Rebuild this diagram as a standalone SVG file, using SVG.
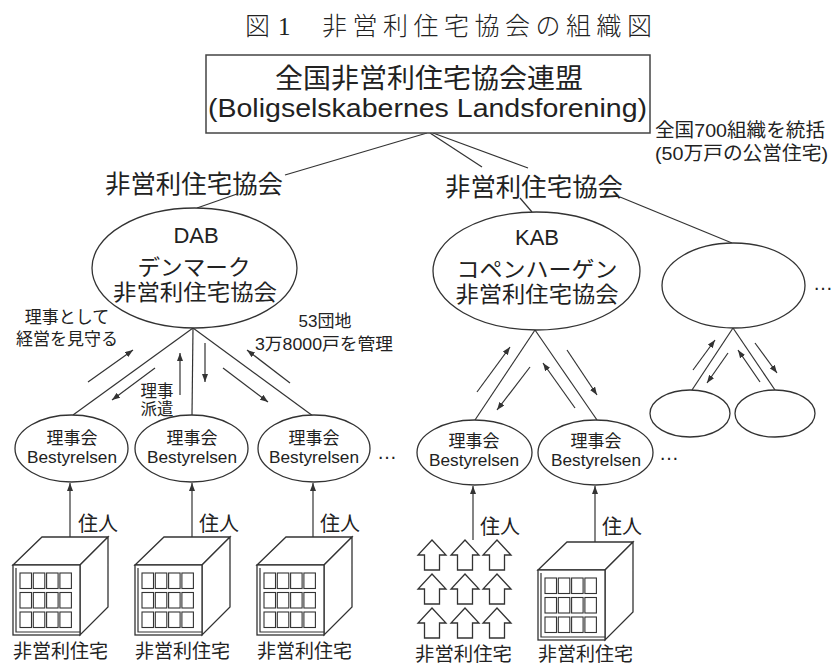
<svg xmlns="http://www.w3.org/2000/svg" width="833" height="666" viewBox="0 0 833 666">
<style>
  text { fill: #222; }
  .jp { font-family: "Liberation Sans", "Noto Sans CJK JP", sans-serif; }
  .ti { font-family: "Liberation Serif", "Noto Sans CJK JP", serif; font-weight: 300; }
  .c { text-anchor: middle; }
  .ln { stroke: #333; stroke-width: 1.2; fill: none; }
  .ar { stroke: #333; stroke-width: 1.2; fill: none; marker-end: url(#ah); }
  .sh { stroke: #333; stroke-width: 1.3; fill: #fff; }
  .win { stroke: #333; stroke-width: 1.1; fill: #fff; }
</style>
<defs>
  <marker id="ah" viewBox="0 0 8 6" refX="8" refY="3" markerWidth="8" markerHeight="6" orient="auto" markerUnits="userSpaceOnUse">
    <path d="M0,0 L8,3 L0,6 z" fill="#333"/>
  </marker>
  <g id="win4x3">
    <rect class="win" x="0" y="0" width="11.5" height="15.5"/>
    <rect class="win" x="13.3" y="0" width="11.5" height="15.5"/>
    <rect class="win" x="26.6" y="0" width="11.5" height="15.5"/>
    <rect class="win" x="39.9" y="0" width="11.5" height="15.5"/>
    <rect class="win" x="0" y="19.5" width="11.5" height="15.5"/>
    <rect class="win" x="13.3" y="19.5" width="11.5" height="15.5"/>
    <rect class="win" x="26.6" y="19.5" width="11.5" height="15.5"/>
    <rect class="win" x="39.9" y="19.5" width="11.5" height="15.5"/>
    <rect class="win" x="0" y="39" width="11.5" height="15.5"/>
    <rect class="win" x="13.3" y="39" width="11.5" height="15.5"/>
    <rect class="win" x="26.6" y="39" width="11.5" height="15.5"/>
    <rect class="win" x="39.9" y="39" width="11.5" height="15.5"/>
  </g>
  <g id="bldg">
    <polygon class="sh" points="0,28 29,0 95,0 67,28"/>
    <polygon class="sh" points="67,28 95,0 95,70 67,98"/>
    <rect class="sh" x="0" y="28" width="67" height="70"/>
    <polyline class="ln" points="3,31 3,95 67,95" stroke-width="1"/>
    <use href="#win4x3" x="7" y="36"/>
  </g>
  <path id="house" class="sh" d="M-7.5,30 V15 H-14 L0,0 L14,15 H7.5 V30 Z"/>
</defs>

<g id="title">
  <text class="ti" x="245" y="35" font-size="25">図</text>
  <text class="ti" x="278" y="35" font-size="25">1</text>
  <text class="ti" x="322" y="35" font-size="25" letter-spacing="5.5">非営利住宅協会の組織図</text>
</g>

<g id="connectors">
  <line class="ln" x1="427" y1="133" x2="285" y2="175"/>
  <line class="ln" x1="430" y1="133" x2="482" y2="167"/>
  <line class="ln" x1="433" y1="133" x2="528" y2="168"/>
  <line class="ln" x1="237" y1="194" x2="197" y2="208"/>
  <line class="ln" x1="520" y1="198" x2="532" y2="212"/>
  <line class="ln" x1="620" y1="197" x2="732" y2="243"/>
  <line class="ln" x1="193" y1="328" x2="73" y2="415"/>
  <line class="ln" x1="193" y1="328" x2="192" y2="415"/>
  <line class="ln" x1="193" y1="328" x2="313" y2="416"/>
  <line class="ln" x1="535" y1="330" x2="475" y2="420"/>
  <line class="ln" x1="535" y1="330" x2="597" y2="420"/>
  <line class="ln" x1="733" y1="328" x2="692" y2="390"/>
  <line class="ln" x1="733" y1="328" x2="775" y2="390"/>
  <line class="ar" x1="88" y1="382" x2="133" y2="350"/>
  <line class="ar" x1="155" y1="368" x2="112" y2="400"/>
  <line class="ar" x1="180" y1="395" x2="180" y2="353"/>
  <line class="ar" x1="205" y1="343" x2="205" y2="382"/>
  <line class="ar" x1="223" y1="368" x2="268" y2="402"/>
  <line class="ar" x1="290" y1="383" x2="247" y2="350"/>
  <line class="ar" x1="477" y1="392" x2="510" y2="347"/>
  <line class="ar" x1="530" y1="367" x2="497" y2="410"/>
  <line class="ar" x1="575" y1="408" x2="543" y2="363"/>
  <line class="ar" x1="567" y1="350" x2="597" y2="395"/>
  <line class="ar" x1="693" y1="370" x2="715" y2="340"/>
  <line class="ar" x1="728" y1="353" x2="707" y2="383"/>
  <line class="ar" x1="760" y1="382" x2="738" y2="350"/>
  <line class="ar" x1="755" y1="343" x2="777" y2="373"/>
  <line class="ar" x1="70" y1="537" x2="70" y2="483"/>
  <line class="ar" x1="192" y1="537" x2="192" y2="483"/>
  <line class="ar" x1="313" y1="537" x2="313" y2="483"/>
  <line class="ar" x1="473" y1="540" x2="473" y2="486"/>
  <line class="ar" x1="595" y1="542" x2="595" y2="486"/>
</g>

<g id="federation">
  <rect x="206" y="55" width="444" height="78" fill="#fff" stroke="#444" stroke-width="1.5"/>
  <text class="jp c" x="429" y="88" font-size="27" textLength="308" lengthAdjust="spacingAndGlyphs">全国非営利住宅協会連盟</text>
  <text class="jp" x="208" y="117" font-size="26" textLength="439" lengthAdjust="spacingAndGlyphs">(Boligselskabernes Landsforening)</text>
</g>

<g id="note">
  <text class="jp" x="655" y="137" font-size="19" textLength="170" lengthAdjust="spacingAndGlyphs">全国700組織を統括</text>
  <text class="jp" x="655" y="160" font-size="19" textLength="173" lengthAdjust="spacingAndGlyphs">(50万戸の公営住宅)</text>
</g>

<g id="assoc-left">
  <text class="jp" x="105" y="193" font-size="25" textLength="178" lengthAdjust="spacingAndGlyphs">非営利住宅協会</text>
</g>
<g id="assoc-right">
  <text class="jp" x="445" y="196" font-size="25" textLength="178" lengthAdjust="spacingAndGlyphs">非営利住宅協会</text>
</g>

<g id="dab">
  <ellipse class="sh" cx="194.5" cy="268" rx="102.5" ry="60"/>
  <text class="jp c" x="196" y="243" font-size="22">DAB</text>
  <text class="jp c" x="194" y="275" font-size="22" textLength="113" lengthAdjust="spacingAndGlyphs">デンマーク</text>
  <text class="jp c" x="195" y="300" font-size="22" textLength="164" lengthAdjust="spacingAndGlyphs">非営利住宅協会</text>
</g>

<g id="kab">
  <ellipse class="sh" cx="536.5" cy="271" rx="103.5" ry="59"/>
  <text class="jp c" x="537" y="245" font-size="22">KAB</text>
  <text class="jp c" x="537" y="277" font-size="22" textLength="161" lengthAdjust="spacingAndGlyphs">コペンハーゲン</text>
  <text class="jp c" x="537" y="302" font-size="22" textLength="163" lengthAdjust="spacingAndGlyphs">非営利住宅協会</text>
</g>

<g id="other-assoc">
  <ellipse class="sh" cx="733.5" cy="285.5" rx="71.5" ry="42.5"/>
  <text class="jp" x="813" y="290" font-size="20">…</text>
</g>

<g id="dab-notes">
  <text class="jp c" x="67" y="323" font-size="17">理事として</text>
  <text class="jp c" x="67" y="345" font-size="17">経営を見守る</text>
  <text class="jp c" x="325" y="327" font-size="17">53団地</text>
  <text class="jp c" x="324" y="350" font-size="17" textLength="138" lengthAdjust="spacingAndGlyphs">3万8000戸を管理</text>
  <text class="jp c" x="157" y="397" font-size="16.5">理事</text>
  <text class="jp c" x="157" y="415" font-size="16.5">派遣</text>
</g>

<g id="board1">
  <ellipse class="sh" cx="71.5" cy="448.5" rx="56.5" ry="33.5"/>
  <text class="jp c" x="72" y="444" font-size="17">理事会</text>
  <text class="jp c" x="72" y="463" font-size="17" textLength="90" lengthAdjust="spacingAndGlyphs">Bestyrelsen</text>
</g>
<g id="board2">
  <ellipse class="sh" cx="191.5" cy="448.5" rx="56.5" ry="33.5"/>
  <text class="jp c" x="192" y="444" font-size="17">理事会</text>
  <text class="jp c" x="192" y="463" font-size="17" textLength="90" lengthAdjust="spacingAndGlyphs">Bestyrelsen</text>
</g>
<g id="board3">
  <ellipse class="sh" cx="314" cy="448.5" rx="56" ry="33.5"/>
  <text class="jp c" x="314" y="444" font-size="17">理事会</text>
  <text class="jp c" x="314" y="463" font-size="17" textLength="90" lengthAdjust="spacingAndGlyphs">Bestyrelsen</text>
  <text class="jp" x="377" y="459" font-size="20">…</text>
</g>
<g id="board4">
  <ellipse class="sh" cx="474.5" cy="452.5" rx="57.5" ry="32.5"/>
  <text class="jp c" x="474" y="447" font-size="17">理事会</text>
  <text class="jp c" x="474" y="466" font-size="17" textLength="90" lengthAdjust="spacingAndGlyphs">Bestyrelsen</text>
</g>
<g id="board5">
  <ellipse class="sh" cx="595.5" cy="452.5" rx="57.5" ry="32.5"/>
  <text class="jp c" x="596" y="447" font-size="17">理事会</text>
  <text class="jp c" x="596" y="466" font-size="17" textLength="90" lengthAdjust="spacingAndGlyphs">Bestyrelsen</text>
  <text class="jp" x="659" y="460" font-size="20">…</text>
</g>
<g id="small1">
  <ellipse class="sh" cx="690" cy="413.5" rx="40" ry="23.5"/>
</g>
<g id="small2">
  <ellipse class="sh" cx="775" cy="413.5" rx="40" ry="23.5"/>
</g>

<g id="residents">
  <text class="jp" x="78" y="531" font-size="20">住人</text>
  <text class="jp" x="199" y="531" font-size="20">住人</text>
  <text class="jp" x="320" y="531" font-size="20">住人</text>
  <text class="jp" x="480" y="534" font-size="20">住人</text>
  <text class="jp" x="602" y="534" font-size="20">住人</text>
</g>

<g id="building1">
  <use href="#bldg" x="13" y="537"/>
  <text class="jp" x="13" y="658" font-size="19" textLength="95" lengthAdjust="spacingAndGlyphs">非営利住宅</text>
</g>
<g id="building2">
  <use href="#bldg" x="135" y="537"/>
  <text class="jp" x="135" y="658" font-size="19" textLength="95" lengthAdjust="spacingAndGlyphs">非営利住宅</text>
</g>
<g id="building3">
  <use href="#bldg" x="257" y="537"/>
  <text class="jp" x="257" y="658" font-size="19" textLength="95" lengthAdjust="spacingAndGlyphs">非営利住宅</text>
</g>
<g id="houses">
  <use href="#house" x="432" y="540"/>
  <use href="#house" x="465" y="540"/>
  <use href="#house" x="497" y="540"/>
  <use href="#house" x="432" y="574"/>
  <use href="#house" x="465" y="574"/>
  <use href="#house" x="497" y="574"/>
  <use href="#house" x="432" y="608"/>
  <use href="#house" x="465" y="608"/>
  <use href="#house" x="497" y="608"/>
  <text class="jp" x="415" y="661" font-size="19" textLength="97" lengthAdjust="spacingAndGlyphs">非営利住宅</text>
</g>
<g id="building5">
  <use href="#bldg" x="538" y="542"/>
  <text class="jp" x="538" y="661" font-size="19" textLength="95" lengthAdjust="spacingAndGlyphs">非営利住宅</text>
</g>
</svg>
